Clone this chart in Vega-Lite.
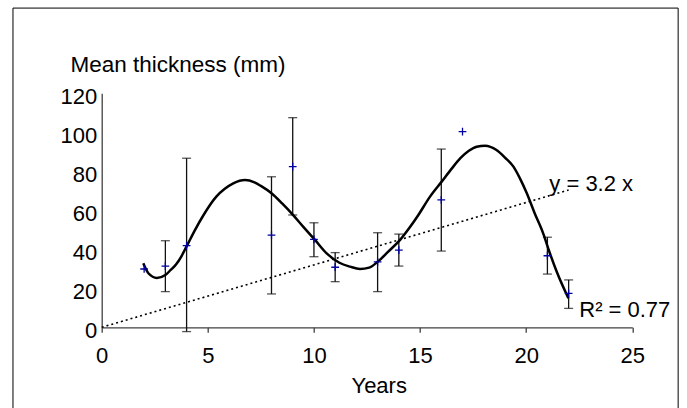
{
  "$schema": "https://vega.github.io/schema/vega-lite/v6.json",
  "width": 530.6,
  "height": 234,
  "autosize": "none",
  "padding": {"left": 101.7, "top": 93.3, "right": 54.7, "bottom": 80.7},
  "background": "white",
  "config": {
    "view": {"stroke": null},
    "font": "Liberation Sans",
    "axis": {"grid": false, "labelFont": "Liberation Sans", "titleFont": "Liberation Sans", "labelColor": "#000", "titleColor": "#000", "labelFontSize": 22, "titleFontSize": 22, "titleFontWeight": "normal", "domainColor": "#404040", "domainWidth": 1.3, "tickColor": "#404040", "tickWidth": 1.3, "labelOverlap": false},
    "axisY": {"labelOverlap": false},
    "axisQuantitative": {"labelOverlap": false}
  },
  "datasets": {
    "frame": [{}],
    "points": [
      {"year": 2, "thickness": 29.9},
      {"year": 3, "thickness": 31.4},
      {"year": 4, "thickness": 41.9},
      {"year": 8, "thickness": 47.3},
      {"year": 9, "thickness": 82.4},
      {"year": 10, "thickness": 45.1},
      {"year": 11, "thickness": 30.8},
      {"year": 13, "thickness": 33.6},
      {"year": 14, "thickness": 39.6},
      {"year": 16, "thickness": 65.3},
      {"year": 17, "thickness": 100.3},
      {"year": 21, "thickness": 36.7},
      {"year": 22, "thickness": 17.4}
    ],
    "err": [
      {"year": 3, "lo": 18.3, "hi": 44.4},
      {"year": 4, "lo": -2.2, "hi": 86.7},
      {"year": 8, "lo": 17.1, "hi": 77.2},
      {"year": 9, "lo": 57.6, "hi": 107.5},
      {"year": 10, "lo": 36.2, "hi": 53.6},
      {"year": 11, "lo": 23.4, "hi": 38.3},
      {"year": 13, "lo": 18.3, "hi": 48.5},
      {"year": 14, "lo": 31.4, "hi": 47.8},
      {"year": 16, "lo": 39.1, "hi": 91.4},
      {"year": 21, "lo": 27.3, "hi": 46.2},
      {"year": 22, "lo": 9.7, "hi": 24.3}
    ],
    "curve": [
      {"year": 1.96, "thickness": 32.8},
      {"year": 2.2, "thickness": 27.7},
      {"year": 2.6, "thickness": 25.3},
      {"year": 3.0, "thickness": 26.8},
      {"year": 3.25, "thickness": 29.4},
      {"year": 3.5, "thickness": 32.2},
      {"year": 3.75, "thickness": 36.3},
      {"year": 4.0, "thickness": 41.5},
      {"year": 4.4, "thickness": 50},
      {"year": 4.8, "thickness": 57.6},
      {"year": 5.4, "thickness": 67},
      {"year": 5.8, "thickness": 71},
      {"year": 6.2, "thickness": 73.8},
      {"year": 6.75, "thickness": 75.5},
      {"year": 7.2, "thickness": 74.3},
      {"year": 7.5, "thickness": 72.5},
      {"year": 8.0, "thickness": 68.7},
      {"year": 8.5, "thickness": 63.5},
      {"year": 9.0, "thickness": 57.8},
      {"year": 9.5, "thickness": 51.5},
      {"year": 10.05, "thickness": 44.8},
      {"year": 10.6, "thickness": 37.9},
      {"year": 11.2, "thickness": 33.1},
      {"year": 11.7, "thickness": 31.1},
      {"year": 12.17, "thickness": 29.9},
      {"year": 12.6, "thickness": 30.6},
      {"year": 13.0, "thickness": 33.6},
      {"year": 13.5, "thickness": 38.8},
      {"year": 14.06, "thickness": 44.8},
      {"year": 14.5, "thickness": 51},
      {"year": 14.92, "thickness": 57.6},
      {"year": 15.47, "thickness": 67},
      {"year": 16.02, "thickness": 74.7},
      {"year": 16.5, "thickness": 81.5},
      {"year": 16.9, "thickness": 86.7},
      {"year": 17.3, "thickness": 90.5},
      {"year": 17.67, "thickness": 92.6},
      {"year": 18.06, "thickness": 93.1},
      {"year": 18.6, "thickness": 90.9},
      {"year": 19.0, "thickness": 87},
      {"year": 19.4, "thickness": 82.4},
      {"year": 19.7, "thickness": 76.5},
      {"year": 20.03, "thickness": 68.7},
      {"year": 20.4, "thickness": 58.5},
      {"year": 20.8, "thickness": 48.2},
      {"year": 21.1, "thickness": 38.5},
      {"year": 21.44, "thickness": 28.5},
      {"year": 21.99, "thickness": 14.9}
    ],
    "trend": [
      {"year": 0, "thickness": 0},
      {"year": 22, "thickness": 70.4}
    ],
    "labels": [
      {"year": 21.09, "thickness": 70, "text": "y = 3.2 x"},
      {"year": 22.5, "thickness": 5.4, "text": "R² = 0.77"}
    ]
  },
  "layer": [
    {
      "data": {"name": "frame"},
      "mark": {"type": "rect", "fill": "transparent", "stroke": "#000", "strokeWidth": 1},
      "encoding": {
        "x": {"datum": -4.18, "type": "quantitative", "scale": {"domain": [0, 25], "nice": false, "zero": false},
          "axis": {"values": [0, 5, 10, 15, 20, 25], "title": "Years", "tickSize": 5, "labelPadding": 13, "labelFlush": false, "labelOverlap": false, "titleX": 277, "titleY": 65, "titleAlign": "center", "titleBaseline": "alphabetic"}},
        "x2": {"datum": 27.16},
        "y": {"datum": 163.7, "type": "quantitative", "scale": {"domain": [0, 120], "nice": false, "zero": false},
          "axis": {"tickCount": 6, "title": "Mean thickness (mm)", "ticks": false, "labelPadding": 5, "labelOffset": 3, "labelFlush": false, "labelOverlap": false, "labelBound": false, "titleAngle": 0, "titleAlign": "left", "titleBaseline": "alphabetic", "titleX": -31.7, "titleY": -21.6, "titleFontSize": 22.5}},
        "y2": {"datum": -50}
      }
    },
    {
      "data": {"name": "trend"},
      "mark": {"type": "line", "color": "#000", "strokeWidth": 1.6, "strokeDash": [2, 3]},
      "encoding": {
        "x": {"field": "year", "type": "quantitative"},
        "y": {"field": "thickness", "type": "quantitative"}
      }
    },
    {
      "data": {"name": "err"},
      "mark": {"type": "rule", "color": "#111", "strokeWidth": 1.3},
      "encoding": {
        "x": {"field": "year", "type": "quantitative"},
        "y": {"field": "lo", "type": "quantitative"},
        "y2": {"field": "hi"}
      }
    },
    {
      "data": {"name": "err"},
      "mark": {"type": "tick", "orient": "horizontal", "color": "#111", "size": 9, "thickness": 1.3},
      "encoding": {
        "x": {"field": "year", "type": "quantitative"},
        "y": {"field": "lo", "type": "quantitative"}
      }
    },
    {
      "data": {"name": "err"},
      "mark": {"type": "tick", "orient": "horizontal", "color": "#111", "size": 9, "thickness": 1.3},
      "encoding": {
        "x": {"field": "year", "type": "quantitative"},
        "y": {"field": "hi", "type": "quantitative"}
      }
    },
    {
      "data": {"name": "curve"},
      "mark": {"type": "line", "color": "#000", "strokeWidth": 2.5, "interpolate": "monotone"},
      "encoding": {
        "x": {"field": "year", "type": "quantitative"},
        "y": {"field": "thickness", "type": "quantitative"}
      }
    },
    {
      "data": {"name": "points"},
      "mark": {"type": "point", "shape": "M-1,0H1M0,-1V1", "filled": false, "stroke": "#0000A0", "strokeWidth": 1.3, "size": 60, "opacity": 1},
      "encoding": {
        "x": {"field": "year", "type": "quantitative"},
        "y": {"field": "thickness", "type": "quantitative"}
      }
    },
    {
      "data": {"name": "labels"},
      "mark": {"type": "text", "align": "left", "baseline": "alphabetic", "fontSize": 22, "font": "Liberation Sans", "color": "#000"},
      "encoding": {
        "x": {"field": "year", "type": "quantitative"},
        "y": {"field": "thickness", "type": "quantitative"},
        "text": {"field": "text"}
      }
    }
  ]
}
